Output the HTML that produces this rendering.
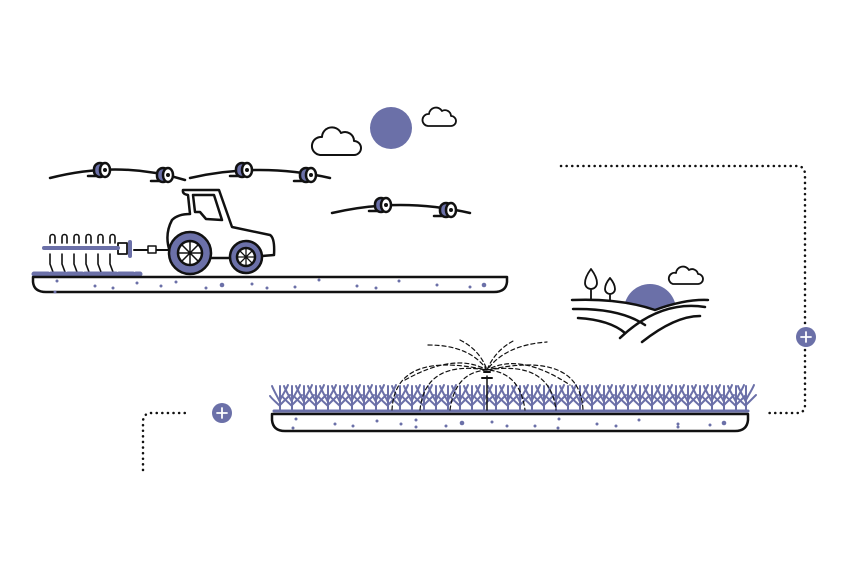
<!DOCTYPE html>
<html><head><style>html,body{margin:0;background:#fff}svg{display:block}</style></head><body>
<svg width="850" height="565" viewBox="0 0 850 565" xmlns="http://www.w3.org/2000/svg" fill="none" stroke="#111" stroke-width="2.5" stroke-linecap="round" stroke-linejoin="round">
<defs>
<g id="spool"><path d="M-12 6 H4"/><rect x="-6" y="-7" width="12" height="14" rx="6" fill="#6b70a8"/><ellipse cx="5" cy="0" rx="5" ry="7" fill="#fff"/><circle cx="5" cy="0" r="2" fill="#111" stroke="none"/></g>
<g id="plant" stroke="#6b70a8" stroke-width="2"><path d="M0 0 V-24 M0 -8 C-3 -14 -6 -19 -8 -24 M0 -10 C3 -16 6 -20 8 -25 M0 -4 C-4 -8 -8 -11 -10 -14 M0 -5 C4 -9 7 -12 10 -15"/></g>
</defs>
<circle cx="391" cy="128" r="21" fill="#6b70a8" stroke="none"/>
<path d="M320 155 H354 a7 7 0 0 0 0-14 a9 9 0 0 0-13-8 a10 10 0 0 0-19 4 a9 9 0 0 0-2 18z" stroke-width="2"/>
<path d="M428 126 H451 a5 5 0 0 0 0-10 a6 6 0 0 0-9-5 a7 7 0 0 0-13 3 a6 6 0 0 0-1 12z" stroke-width="1.8"/>
<path d="M50 178 Q120 160 185 180"/><path d="M190 178 Q260 162 330 178"/><path d="M332 213 Q400 197 470 213"/>
<use href="#spool" x="100" y="170"/><use href="#spool" x="163" y="175"/>
<use href="#spool" x="242" y="170"/><use href="#spool" x="306" y="175"/>
<use href="#spool" x="381" y="205"/><use href="#spool" x="446" y="210"/>
<path d="M183 190 H219 L232 227 L270 235 Q275 238 274 255 L262 256 M230 258 H210 M170 252 Q164 235 172 220 Q178 214 190 214 L188 195 Q182 194 183 190"/>
<path d="M193 195 H214 L222 220 L206 219 L200 212 H195z"/>
<circle cx="190" cy="253" r="21" fill="#6b70a8"/><circle cx="190" cy="253" r="12" fill="#fff"/>
<path d="M178 253 H202 M190 241 V265 M182 245 L198 261 M198 245 L182 261" stroke-width="1.5"/>
<circle cx="246" cy="257" r="16" fill="#6b70a8"/><circle cx="246" cy="257" r="9" fill="#fff"/>
<path d="M237 257 H255 M246 248 V266 M240 251 L252 263 M252 251 L240 263" stroke-width="1.3"/>
<path d="M134 250 H168" stroke-width="2"/><rect x="148" y="246" width="8" height="7" fill="#fff" stroke-width="1.5"/>
<path d="M130 242 V256" stroke="#6b70a8" stroke-width="4"/>
<rect x="118" y="243" width="9" height="11" fill="#fff" stroke-width="1.8"/>
<g stroke-width="1.6"><path d="M50 243 v-6 a2.5 2.5 0 0 1 5 0 v6 M50 254 v10 l3 8 M62 243 v-6 a2.5 2.5 0 0 1 5 0 v6 M62 254 v10 l3 8 M74 243 v-6 a2.5 2.5 0 0 1 5 0 v6 M74 254 v10 l3 8 M86 243 v-6 a2.5 2.5 0 0 1 5 0 v6 M86 254 v10 l3 8 M98 243 v-6 a2.5 2.5 0 0 1 5 0 v6 M98 254 v10 l3 8 M110 243 v-6 a2.5 2.5 0 0 1 5 0 v6 M110 254 v10 l3 8"/></g>
<path d="M44 248 H118" stroke="#6b70a8" stroke-width="4"/>
<path d="M34 274 H140" stroke="#6b70a8" stroke-width="5" stroke-dasharray="14 3"/>
<path d="M33 277 H507 V282 Q506 292 494 292 H46 Q34 292 33 282z" stroke-width="2.5"/>
<g fill="#6b70a8" stroke="none"><circle cx="57" cy="281" r="1.5"/><circle cx="55" cy="292" r="1.5"/><circle cx="95" cy="286" r="1.5"/><circle cx="113" cy="288" r="1.5"/><circle cx="137" cy="283" r="1.5"/><circle cx="161" cy="286" r="1.5"/><circle cx="176" cy="282" r="1.5"/><circle cx="206" cy="288" r="1.5"/><circle cx="222" cy="285" r="2.3"/><circle cx="252" cy="284" r="1.5"/><circle cx="267" cy="288" r="1.5"/><circle cx="295" cy="287" r="1.5"/><circle cx="319" cy="280" r="1.5"/><circle cx="357" cy="286" r="1.5"/><circle cx="376" cy="288" r="1.5"/><circle cx="399" cy="281" r="1.5"/><circle cx="437" cy="285" r="1.5"/><circle cx="470" cy="287" r="1.5"/><circle cx="484" cy="285" r="2.3"/></g>
<path d="M272 414 H748 V420 Q747 431 735 431 H285 Q273 431 272 420z"/>
<g fill="#6b70a8" stroke="none"><circle cx="296" cy="419" r="1.5"/><circle cx="293" cy="428" r="1.5"/><circle cx="335" cy="424" r="1.5"/><circle cx="353" cy="426" r="1.5"/><circle cx="377" cy="421" r="1.5"/><circle cx="401" cy="424" r="1.5"/><circle cx="416" cy="420" r="1.5"/><circle cx="416" cy="427" r="1.5"/><circle cx="446" cy="426" r="1.5"/><circle cx="462" cy="423" r="2.3"/><circle cx="492" cy="422" r="1.5"/><circle cx="507" cy="426" r="1.5"/><circle cx="535" cy="426" r="1.5"/><circle cx="559" cy="419" r="1.5"/><circle cx="558" cy="428" r="1.5"/><circle cx="597" cy="424" r="1.5"/><circle cx="616" cy="426" r="1.5"/><circle cx="639" cy="420" r="1.5"/><circle cx="678" cy="424" r="1.5"/><circle cx="678" cy="427" r="1.5"/><circle cx="710" cy="425" r="1.5"/><circle cx="724" cy="423" r="2.3"/></g>
<path d="M274 411 H748" stroke="#6b70a8" stroke-width="3"/>
<g>
<use href="#plant" x="280" y="410"/><use href="#plant" x="292" y="410"/><use href="#plant" x="304" y="410"/><use href="#plant" x="316" y="410"/><use href="#plant" x="328" y="410"/><use href="#plant" x="340" y="410"/><use href="#plant" x="352" y="410"/><use href="#plant" x="364" y="410"/><use href="#plant" x="376" y="410"/><use href="#plant" x="388" y="410"/><use href="#plant" x="400" y="410"/><use href="#plant" x="412" y="410"/><use href="#plant" x="424" y="410"/><use href="#plant" x="436" y="410"/><use href="#plant" x="448" y="410"/><use href="#plant" x="460" y="410"/><use href="#plant" x="472" y="410"/><use href="#plant" x="484" y="410"/><use href="#plant" x="496" y="410"/><use href="#plant" x="508" y="410"/><use href="#plant" x="520" y="410"/><use href="#plant" x="532" y="410"/><use href="#plant" x="544" y="410"/><use href="#plant" x="556" y="410"/><use href="#plant" x="568" y="410"/><use href="#plant" x="580" y="410"/><use href="#plant" x="592" y="410"/><use href="#plant" x="604" y="410"/><use href="#plant" x="616" y="410"/><use href="#plant" x="628" y="410"/><use href="#plant" x="640" y="410"/><use href="#plant" x="652" y="410"/><use href="#plant" x="664" y="410"/><use href="#plant" x="676" y="410"/><use href="#plant" x="688" y="410"/><use href="#plant" x="700" y="410"/><use href="#plant" x="712" y="410"/><use href="#plant" x="724" y="410"/><use href="#plant" x="736" y="410"/><use href="#plant" x="746" y="410"/>
</g>
<path d="M487 410 V376" stroke-width="1.5"/><path d="M482 378 H492 M484 372 H490" stroke-width="2"/>
<g stroke-width="1.2" stroke-dasharray="4 3">
<path d="M392 410 Q395 350 487 370 Q580 350 583 410"/>
<path d="M420 410 Q425 360 487 370 Q550 360 556 410"/>
<path d="M450 410 Q455 372 487 370 Q520 372 525 410"/>
<path d="M428 345 Q470 345 487 370 Q505 345 547 342"/>
<path d="M460 340 Q480 350 487 370 Q495 350 515 340"/>
<path d="M405 380 Q455 352 487 370 Q520 352 570 385"/>
</g>
<clipPath id="cl"><path d="M560 260 H720 V299 Q690 300 655 310 Q620 300 570 301 V260z"/></clipPath>
<circle cx="650" cy="310" r="26" fill="#6b70a8" stroke="none" clip-path="url(#cl)"/>
<path d="M572 300 Q620 298 655 310 Q685 299 708 300 M573 309 Q620 308 645 325 M578 318 Q610 320 625 333 M620 338 Q660 300 705 307 M642 342 Q675 316 700 316"/>
<path d="M591 299 V289 M591 289 a6 6 0 0 1-6-6 q0-6 6-14 q6 8 6 14 a6 6 0 0 1-6 6z" stroke-width="1.8"/>
<path d="M610 300 V294 M610 294 a5 5 0 0 1-5-5 q0-5 5-11 q5 6 5 11 a5 5 0 0 1-5 5z" stroke-width="1.8"/>
<path d="M673 284 H698 a5 5 0 0 0 0-10 a6 6 0 0 0-9-4 a7 7 0 0 0-13 3 a5 5 0 0 0-3 11z" stroke-width="1.8"/>
<g stroke-width="2.5" stroke-dasharray="0.1 5.5">
<path d="M561 166 H797 Q805 166 805 175 V325"/>
<path d="M805 350 V405 Q805 413 797 413 H768"/>
<path d="M143 470 V422 Q143 413 152 413 H190"/>
</g>
<circle cx="806" cy="337" r="10" fill="#6b70a8" stroke="none"/><path d="M801 337 H811 M806 332 V342" stroke="#fff" stroke-width="1.8"/>
<circle cx="222" cy="413" r="10" fill="#6b70a8" stroke="none"/><path d="M217 413 H227 M222 408 V418" stroke="#fff" stroke-width="1.8"/>
</svg>
</body></html>
